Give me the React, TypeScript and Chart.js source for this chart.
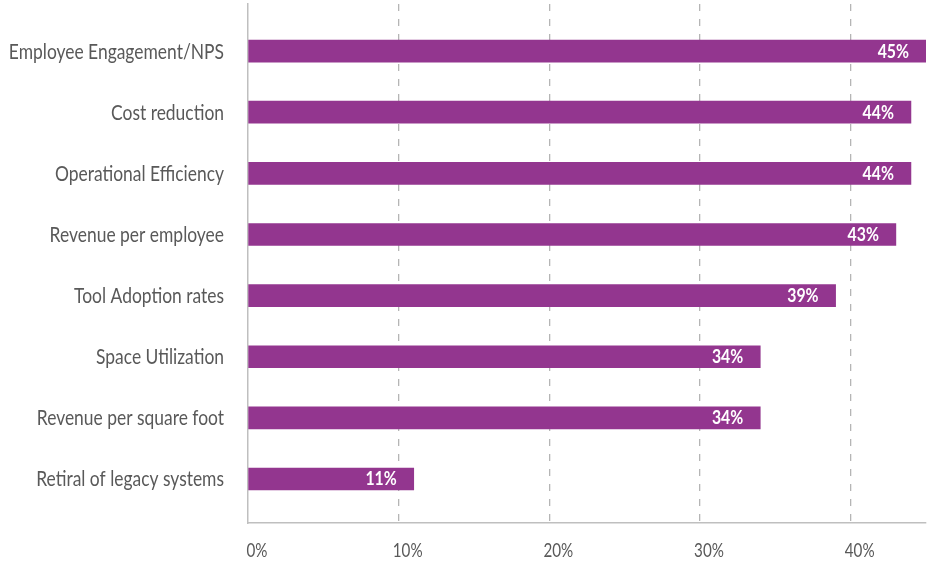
import React, { useEffect, useRef } from "react";
import { Chart, registerables } from "chart.js";

Chart.register(...registerables);

const categories = [
  "Employee Engagement/NPS",
  "Cost reduction",
  "Operational Efficiency",
  "Revenue per employee",
  "Tool Adoption rates",
  "Space Utilization",
  "Revenue per square foot",
  "Retiral of legacy systems",
];
const values = [45, 44, 44, 43, 39, 34, 34, 11];
const xTicks = [0, 10, 20, 30, 40];

const FONT = "Lato, 'Open Sans', sans-serif";
const BAR = "#93368f";
const TEXT = "#595959";
const Y_MIN = -0.77;
const Y_MAX = 7.72;

function condensedText(
  ctx: CanvasRenderingContext2D,
  text: string,
  x: number,
  y: number,
  align: "left" | "right" | "center",
  sx: number
) {
  const w = ctx.measureText(text).width * sx;
  let left = x;
  if (align === "right") left = x - w;
  if (align === "center") left = x - w / 2;
  ctx.save();
  ctx.translate(left, y);
  ctx.scale(sx, 1);
  ctx.textAlign = "left";
  ctx.textBaseline = "alphabetic";
  ctx.fillText(text, 0, 0);
  ctx.restore();
}

const textPlugin = {
  id: "textPlugin",
  afterDraw(chart: any) {
    const ctx: CanvasRenderingContext2D = chart.ctx;
    const xs = chart.scales.x;
    const ys = chart.scales.y;
    ctx.save();
    ctx.fillStyle = TEXT;
    ctx.font = `21px ${FONT}`;
    categories.forEach((c, i) => {
      const y = ys.getPixelForValue(i);
      condensedText(ctx, c, xs.left - 24, y + 7.5, "right", 0.83);
    });
    ctx.font = `19px ${FONT}`;
    xTicks.forEach((t) => {
      const x = xs.getPixelForValue(t);
      condensedText(ctx, t + "%", x + 9, ys.bottom + 34, "center", 0.8);
    });
    const meta = chart.getDatasetMeta(0);
    ctx.fillStyle = "#ffffff";
    ctx.font = `bold 18px ${FONT}`;
    meta.data.forEach((el: any, i: number) => {
      condensedText(ctx, values[i] + "%", el.x - 17, el.y + 6.5, "right", 0.88);
    });
    ctx.restore();
  },
};

export default function App() {
  const ref = useRef<HTMLCanvasElement>(null);
  useEffect(() => {
    document.body.style.margin = "0";
    const chart = new Chart(ref.current!, {
      type: "bar",
      data: {
        datasets: [
          {
            data: values.map((v, i) => ({ x: v, y: i })),
            backgroundColor: BAR,
            barThickness: 22,
          },
        ],
      },
      options: {
        indexAxis: "y",
        animation: false,
        responsive: false,
        layout: { padding: { top: 4, right: 2, left: 0, bottom: 0 } },
        plugins: { legend: { display: false }, tooltip: { enabled: false } },
        scales: {
          x: {
            type: "linear",
            min: 0,
            max: 45,
            ticks: { stepSize: 10, display: false },
            grid: {
              drawTicks: false,
              color: (c: any) =>
                c.tick && c.tick.value > 0 && c.tick.value < 45 ? "#b5b5b5" : "rgba(0,0,0,0)",
              lineWidth: 1.3,
            },
            border: { display: true, color: "#bfbfbf", width: 1.5, dash: [7, 8] },
            afterFit: (s: any) => {
              s.height = 39;
              s.paddingLeft = 0;
              s.paddingRight = 0;
              s.paddingTop = 0;
              s.paddingBottom = 0;
            },
          },
          y: {
            type: "linear",
            reverse: true,
            offset: false,
            bounds: "data",
            min: Y_MIN,
            max: Y_MAX,
            afterBuildTicks: (s: any) => {
              s.ticks = categories.map((_, i) => ({ value: i }));
              s.min = Y_MIN;
              s.max = Y_MAX;
            },
            ticks: { display: false },
            grid: { display: false, drawTicks: false, offset: false },
            border: { display: true, color: "#bfbfbf", width: 1.5 },
            afterFit: (s: any) => {
              s.width = 248;
              s.paddingLeft = 0;
              s.paddingRight = 0;
              s.paddingTop = 0;
              s.paddingBottom = 0;
            },
          },
        },
      },
      plugins: [textPlugin],
    });
    return () => chart.destroy();
  }, []);
  return <canvas ref={ref} width={928} height={562} style={{ display: "block" }} />;
}
